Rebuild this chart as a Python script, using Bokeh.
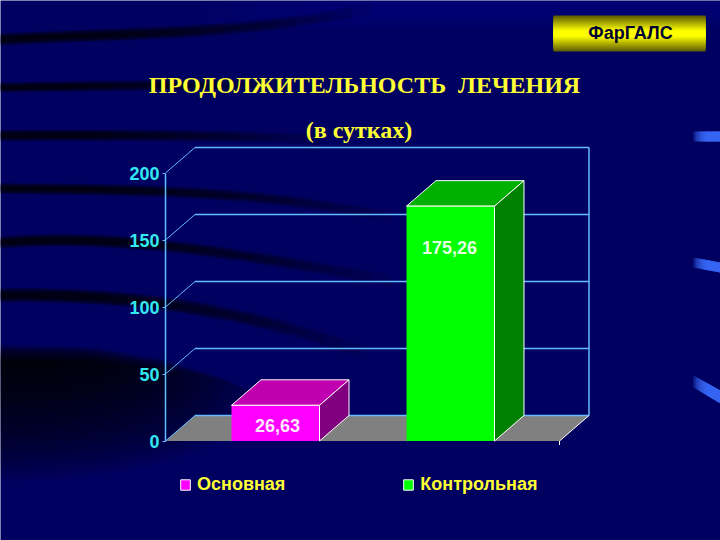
import numpy as np
from bokeh.core.properties import value
from bokeh.embed import file_html
from bokeh.models import FixedTicker, Legend, LegendItem, LinearAxis, Range1d
from bokeh.plotting import figure
from bokeh.resources import INLINE

categories = ["Основная", "Контрольная"]
durations = [26.63, 175.26]
front_colors = ["#FF00FF", "#00FF00"]
top_colors = ["#C000B0", "#00B000"]
side_colors = ["#800080", "#008000"]
label_colors = ["#FFE8FF", "#E4FFE4"]
y_ticks = [0, 50, 100, 150, 200]
title_text = "ПРОДОЛЖИТЕЛЬНОСТЬ\u00a0\u00a0ЛЕЧЕНИЯ"
subtitle_text = "(в сутках)"
badge_text = "ФарГАЛС"

W, H = 720, 540
PER_UNIT = 1.34           # pixels per day on the value axis
BASE = 440.5              # page pixel of value 0
DX, DEPTH = 29.5, 25.5 / PER_UNIT
AX_L, AX_R = 165, 559
BAR_L = [231, 406]
BAR_W = 88
LABEL_PX = [425, 247]


def Y(px):
    return (BASE - np.asarray(px, dtype=float)) / PER_UNIT


p = figure(width=W, height=H, output_backend="svg", toolbar_location=None,
           x_range=Range1d(0, W), y_range=Range1d(float(Y(H)), float(Y(0))),
           x_axis_location=None, y_axis_location=None, min_border=0,
           outline_line_color=None, background_fill_color="#000060",
           border_fill_color="#000060")
p.grid.visible = False


# ---- decorative backdrop -------------------------------------------------
def streak(path, half, reach, color="#000000", n=16, a=0.085):
    px, py = np.array(path, dtype=float).T
    coef = np.polyfit(px, py, 3)
    widths = [1.0, 0.78, 0.56, 0.34]
    for k in range(n):
        xe = px[0] + (reach - px[0]) * (1 - 0.8 * k / n)
        xs = np.linspace(px[0], xe, 32)
        ys = np.polyval(coef, xs)
        hw = half * widths[k % 4]
        p.patch(np.r_[xs, xs[::-1]], Y(np.r_[ys - hw, (ys + hw)[::-1]]),
                fill_color=color, fill_alpha=a, line_color=None)


for k in range(8):
    p.quad(left=[180 + k * 25], right=[W], top=[float(Y(0))], bottom=[float(Y(30 - 2.5 * k))],
           fill_color="#0000A0", fill_alpha=0.06, line_color=None)

streak([(0, 39), (120, 34), (240, 27), (360, 10)], 6, 370)
streak([(0, 87), (150, 85), (280, 85)], 5, 290)
streak([(0, 135), (150, 135), (300, 138)], 5.5, 320)
streak([(0, 188), (160, 191), (300, 202), (380, 215)], 5.5, 390)
streak([(0, 242), (160, 245), (260, 258), (380, 278)], 6, 390)
streak([(0, 295), (120, 298), (200, 310), (280, 325), (350, 348)], 7, 360)

N = 24
for k in range(N):
    xe = 260 - k * 8.5
    ye = 480 - k * 5.5
    xs = np.linspace(0, xe, 24)
    top = np.interp(xs, [0, 90, 160, 220, 270], [344, 346, 358, 376, 400]) + k * 0.8
    bot = top[-1] + (ye - top[-1]) * np.sqrt(np.clip(1 - (xs / xe) ** 2, 0, 1))
    p.patch(np.r_[xs, xs[::-1]], Y(np.r_[top, bot[::-1]]),
            fill_color="#000000", fill_alpha=0.075, line_color=None)

for ya0, ya1, yb0, yb1 in [(131, 141, 131, 141), (257, 267, 262, 272), (375, 387, 390, 403)]:
    for k in range(7):
        x0 = 693 + k * 2.2
        t = (x0 - 693) / 27
        p.patch([x0, 720, 720, x0],
                Y([ya0 + (yb0 - ya0) * t, yb0, yb1, ya1 + (yb1 - ya1) * t]),
                fill_color="#3A6CFF", fill_alpha=0.3, line_color=None)

# ---- badge ---------------------------------------------------------------
for k in range(18):
    f = k / 17
    r = int(95 + 160 * min(1, f * 1.15))
    p.quad(left=[553], right=[705], top=[float(Y(15 + k))], bottom=[float(Y(51 - k))],
           fill_color=f"#{r:02X}{r:02X}00", line_color=None)
p.text([630], [float(Y(32.5))], text=[badge_text], text_font=value("Liberation Sans"),
       text_font_style="bold", text_font_size=value("18px"), text_color="#000033",
       text_align="center", text_baseline="middle")

# ---- titles --------------------------------------------------------------
p.text([364], [float(Y(84.5))], text=[title_text], text_font=value("Liberation Serif"),
       text_font_style="bold", text_font_size=value("24px"), text_color="#FFFF33",
       text_align="center", text_baseline="middle")
p.text([358.5], [float(Y(129.5))], text=[subtitle_text], text_font=value("Liberation Serif"),
       text_font_style="bold", text_font_size=value("24px"), text_color="#FFFF33",
       text_align="center", text_baseline="middle")

# ---- 3-D box -------------------------------------------------------------
WALL = "#66BBFF"
ticks = np.array(y_ticks, dtype=float)
p.patch([AX_L, AX_L + DX, AX_R + DX, AX_R], [0, DEPTH, DEPTH, 0],
        fill_color="#808080", line_color=None)
p.segment(x0=[AX_L + DX] * len(ticks), y0=ticks + DEPTH, x1=[AX_R + DX] * len(ticks),
          y1=ticks + DEPTH, line_color=WALL, line_width=1.5)
p.segment(x0=[AX_L] * len(ticks), y0=ticks, x1=[AX_L + DX] * len(ticks), y1=ticks + DEPTH,
          line_color=WALL, line_width=1)
p.segment(x0=[AX_R + DX], y0=[DEPTH], x1=[AX_R + DX], y1=[ticks[-1] + DEPTH],
          line_color=WALL, line_width=1.5)
p.segment(x0=[AX_R, AX_R], y0=[0, 0], x1=[AX_R + DX, AX_R], y1=[DEPTH, -4 / PER_UNIT],
          line_color="#FFFFFF", line_width=1)

axis = LinearAxis(ticker=FixedTicker(ticks=y_ticks), bounds=(min(y_ticks), max(y_ticks)),
                  fixed_location=AX_L, axis_line_color=WALL, axis_line_width=1.5,
                  major_tick_line_color=WALL, major_tick_out=3, major_tick_in=0,
                  minor_tick_line_color=None, major_label_standoff=3,
                  major_label_text_color="#33E8F0", major_label_text_font="Liberation Sans",
                  major_label_text_font_style="bold", major_label_text_font_size="18px")
p.add_layout(axis, "left")

# ---- bars ----------------------------------------------------------------
for i, v in enumerate(durations):
    l, r = BAR_L[i], BAR_L[i] + BAR_W
    p.patch([l, l + DX, r + DX, r], [v, v + DEPTH, v + DEPTH, v],
            fill_color=top_colors[i], line_color="#FFFFFF", line_width=1)
    p.patch([r, r + DX, r + DX, r], [0, DEPTH, v + DEPTH, v],
            fill_color=side_colors[i], line_color="#FFFFFF", line_width=1)
    p.quad(left=[l], right=[r], top=[v], bottom=[0], fill_color=front_colors[i], line_color=None)
    p.line([l, r, r], [v, v, 0], line_color="#FFFFFF", line_width=1)
    p.text([l + BAR_W / 2 + 2 - i * 3], [float(Y(LABEL_PX[i]))], text=[f"{v:.2f}".replace(".", ",")],
           text_font=value("Liberation Sans"), text_font_style="bold",
           text_font_size=value("18px"), text_color=label_colors[i],
           text_align="center", text_baseline="middle")

# ---- legend --------------------------------------------------------------
items = []
for cat, col in zip(categories, front_colors):
    swatch = p.quad(left=[np.nan], right=[np.nan], top=[np.nan], bottom=[np.nan],
                    fill_color=col, line_color="#FFFFFF", line_width=1)
    items.append(LegendItem(label=cat, renderers=[swatch]))
legend = Legend(items=items, orientation="horizontal", location=(179, 45), margin=0, padding=0,
                spacing=117, label_standoff=6, glyph_width=12, glyph_height=13,
                label_height=20, background_fill_alpha=0, border_line_color=None,
                label_text_color="#FFFF33", label_text_font="Liberation Sans",
                label_text_font_style="bold", label_text_font_size="18px")
p.add_layout(legend, "center")

open("out.html", "w").write(file_html(p, INLINE))
